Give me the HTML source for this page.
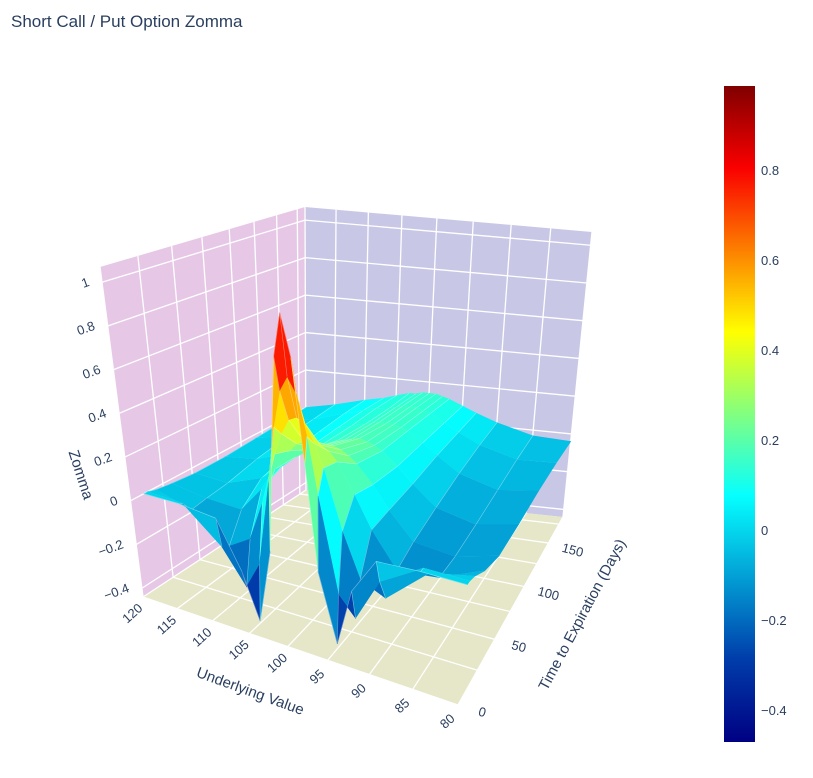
<!DOCTYPE html>
<html><head><meta charset="utf-8"><style>
body{margin:0;background:#fff;font-family:"Liberation Sans",sans-serif}
svg text{font-family:"Liberation Sans",sans-serif;fill:#2a3f5f}
</style></head><body>
<svg id="chart" width="813" height="773" viewBox="0 0 813 773" xmlns="http://www.w3.org/2000/svg">
<text x="11" y="27" font-size="17">Short Call / Put Option Zomma</text>
<g id="scene"></g>
<defs><linearGradient id="jet" x1="0" y1="1" x2="0" y2="0">
<stop offset="0" stop-color="rgb(0,0,131)"/><stop offset="0.125" stop-color="rgb(0,60,170)"/>
<stop offset="0.375" stop-color="rgb(5,255,255)"/><stop offset="0.625" stop-color="rgb(255,255,0)"/>
<stop offset="0.875" stop-color="rgb(250,0,0)"/><stop offset="1" stop-color="rgb(128,0,0)"/></linearGradient></defs>
<rect x="724" y="86" width="31" height="656" fill="url(#jet)"/>
<g id="cbticks"></g>
</svg>
<script>
const underlying=[80,85,90,93,95,97,98,99,100,101,102,103,105,107,110,115,120];
const days=[10,13,19,32,52,82,117,152,185];
const zomma=[
[0,0,-0.01,-0.17,-0.42,-0.13,0.33,0.79,0.98,0.78,0.35,-0.10,-0.43,-0.23,-0.02,0,0],
[0,0,-0.11,-0.30,-0.22,0.19,0.44,0.62,0.69,0.62,0.45,0.21,-0.19,-0.31,-0.16,-0.01,0],
[-0.01,-0.05,-0.21,-0.16,0.03,0.29,0.39,0.47,0.49,0.47,0.40,0.30,0.06,-0.12,-0.18,-0.06,-0.01],
[-0.05,-0.13,-0.15,0.0,0.14,0.27,0.31,0.33,0.34,0.33,0.31,0.27,0.17,0.06,-0.06,-0.05,-0.02],
[-0.08,-0.13,-0.11,0.01,0.11,0.19,0.22,0.24,0.25,0.24,0.23,0.21,0.16,0.10,0.02,-0.04,-0.03],
[-0.07,-0.11,-0.07,0.02,0.09,0.15,0.17,0.18,0.19,0.18,0.17,0.16,0.13,0.10,0.05,-0.01,-0.03],
[-0.05,-0.08,-0.03,0.04,0.09,0.14,0.15,0.16,0.16,0.16,0.15,0.14,0.12,0.10,0.06,0.01,-0.02],
[-0.04,-0.05,0.0,0.05,0.09,0.13,0.14,0.15,0.15,0.15,0.14,0.13,0.12,0.10,0.07,0.02,-0.01],
[-0.04,-0.03,0.02,0.06,0.09,0.12,0.13,0.14,0.14,0.14,0.13,0.13,0.11,0.09,0.07,0.03,0.0]];
const sTicks=[120,115,110,105,100,95,90,85,80];
const tTicks=[0,50,100,150];
const zTicks=[-0.4,-0.2,0,0.2,0.4,0.6,0.8,1];
const cbTicks=[-0.4,-0.2,0,0.2,0.4,0.6,0.8];
const cbTickLabels=["\u22120.4","\u22120.2","0","0.2","0.4","0.6","0.8"];
const zTickLabels=["\u22120.4","\u22120.2","0","0.2","0.4","0.6","0.8","1"];

const Tmax=185,zmin=-0.44,zmax=1.07,cmin=-0.469,cmax=0.989;
const Af=[143,597],Bf=[458,705],Cf=[563,517],Df=[306,490];
const At=[100,267],Bt=[460,335],Ct=[592,232],Dt=[305,207];
function fu(t){const c=-0.15;return t*(1+c)/(1+c*t);}
function fv(t){const c=0.45;return t*(1+c)/(1+c*t);}
function bil(A,B,C,D,u,v){return [0,1].map(i=>(1-u)*(1-v)*A[i]+u*(1-v)*B[i]+u*v*C[i]+(1-u)*v*D[i]);}
function P(S,T,z){const u=fu((120-S)/40),v=fv(T/Tmax),w=(z-zmin)/(zmax-zmin);
 const f=bil(Af,Bf,Cf,Df,u,v),t=bil(At,Bt,Ct,Dt,u,v);return [f[0]+(t[0]-f[0])*w,f[1]+(t[1]-f[1])*w];}
const stops=[[0,[0,0,131]],[0.125,[0,60,170]],[0.375,[5,255,255]],[0.625,[255,255,0]],[0.875,[250,0,0]],[1,[128,0,0]]];
function jet(z){let t=Math.max(0,Math.min(1,(z-cmin)/(cmax-cmin)));
 for(let i=1;i<stops.length;i++){if(t<=stops[i][0]){const a=stops[i-1],b=stops[i],k=(t-a[0])/(b[0]-a[0]);
 return 'rgb('+a[1].map((c,j)=>Math.round(c+(b[1][j]-c)*k)).join(',')+')';}}return 'rgb(128,0,0)';}
const NS='http://www.w3.org/2000/svg',scene=document.getElementById('scene');
function el(tag,attrs,parent){const e=document.createElementNS(NS,tag);for(const k in attrs)e.setAttribute(k,attrs[k]);(parent||scene).appendChild(e);return e;}
function pts(a){return a.map(p=>p[0].toFixed(1)+','+p[1].toFixed(1)).join(' ');}
let e;
e=el('polygon',{points:pts([P(120,0,zmin),P(120,Tmax,zmin),P(120,Tmax,zmax),P(120,0,zmax)]),fill:'rgb(230,200,230)'});


e=el('polygon',{points:pts([P(120,Tmax,zmin),P(80,Tmax,zmin),P(80,Tmax,zmax),P(120,Tmax,zmax)]),fill:'rgb(200,200,230)'});


e=el('polygon',{points:pts([P(120,0,zmin),P(80,0,zmin),P(80,Tmax,zmin),P(120,Tmax,zmin)]),fill:'rgb(230,230,200)'});


function gl(a,b,name){const l=el('line',{x1:a[0],y1:a[1],x2:b[0],y2:b[1],stroke:'#fff','stroke-width':1.3});
 
 }
sTicks.forEach(s=>{gl(P(s,0,zmin),P(s,Tmax,zmin),'floor-grid-s');gl(P(s,Tmax,zmin),P(s,Tmax,zmax),'back-grid-s');});
for(let t=0;t<=175;t+=25){gl(P(120,t,zmin),P(80,t,zmin),'floor-grid-t');gl(P(120,t,zmin),P(120,t,zmax),'left-grid-t');}
zTicks.forEach(z=>{gl(P(120,0,z),P(120,Tmax,z),'left-grid-z');gl(P(120,Tmax,z),P(80,Tmax,z),'back-grid-z');});
const quads=[];
for(let i=0;i<days.length-1;i++)for(let j=0;j<underlying.length-1;j++){
 const c=[[j,i],[j+1,i],[j+1,i+1],[j,i+1]];
 const avg=c.reduce((s,q)=>s+zomma[q[1]][q[0]],0)/4;
 const u=(120-(underlying[j]+underlying[j+1])/2)/40,v=(days[i]+days[i+1])/2/Tmax;
 quads.push({c,avg,d:(1-u)+v});}
quads.sort((a,b)=>b.d-a.d);
quads.forEach(q=>{const p=q.c.map(k=>P(underlying[k[0]],days[k[1]],zomma[k[1]][k[0]]));
 const poly=el('polygon',{points:pts(p),fill:jet(q.avg),stroke:jet(q.avg),'stroke-width':0.6});
 
 
 const ln=el('polyline',{points:pts([p[0],p[1],p[2]]),fill:'none',stroke:'rgba(255,255,255,0.45)','stroke-width':0.6});
 
 });
function tx(x,y,str,rot,name,anchor,fs){const t=el('text',{x:x,y:y,'font-size':fs||13,'text-anchor':anchor||'middle','dominant-baseline':'middle',transform:'rotate('+rot+' '+x+' '+y+')'});t.textContent=str;
 
 }
sTicks.forEach(s=>{const p=P(s,0,zmin);tx(p[0]-10,p[1]+17,String(s),-42,'x-tick-label');});
tTicks.forEach(t=>{const p=P(80,t,zmin);tx(p[0]+24,p[1]+8,String(t),15,'y-tick-label');});
zTicks.forEach((z,i)=>{const p=P(120,0,z);tx(p[0]-13,p[1],zTickLabels[i],-20,'z-tick-label','end');});
tx(250,692,'Underlying Value',20,'x-axis-title','middle',15);
tx(583,615,'Time to Expiration (Days)',-62,'y-axis-title','middle',15);
tx(80,475,'Zomma',72,'z-axis-title','middle',15);
const cb=document.getElementById('cbticks');
cbTicks.forEach((v,i)=>{const y=86+(cmax-v)/(cmax-cmin)*656;const t=el('text',{x:761,y:y+4,'font-size':13},cb);t.textContent=cbTickLabels[i];
 
 });
</script>
</body></html>
